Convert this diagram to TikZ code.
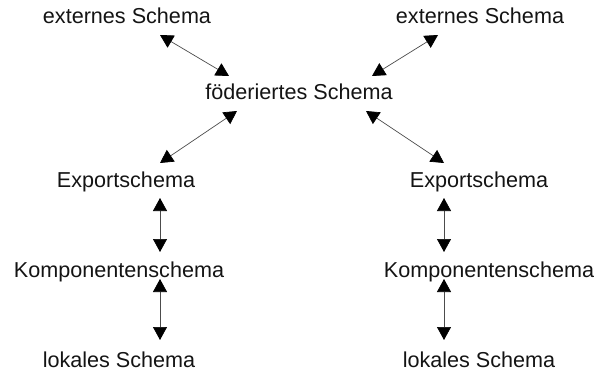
\documentclass[tikz,border=0pt]{standalone}
\usepackage{fontspec}
\setmainfont{Liberation Sans}
\usetikzlibrary{arrows.meta}
\begin{document}
\begin{tikzpicture}[x=1pt,y=-1pt,
  schema/.style={font=\fontsize{21.6}{24}\selectfont, anchor=base, inner sep=0pt, text=black!92},
  tip/.style={Triangle[length=13pt,width=14pt,color=black]},
  link/.style={draw=black!70, line width=0.7pt, {Triangle[length=13pt,width=14pt,color=black]}-{Triangle[length=13pt,width=14pt,color=black]}}]
  \useasboundingbox (0,0) rectangle (594,374);
  % schema levels
  \node[schema] (ext1) at (127,24) {externes Schema};
  \node[schema] (ext2) at (480,24) {externes Schema};
  \node[schema] (fed)  at (299,100) {föderiertes Schema};
  \node[schema] (exp1) at (126,188) {Exportschema};
  \node[schema] (exp2) at (479,188) {Exportschema};
  \node[schema] (kom1) at (119,277) {Komponentenschema};
  \node[schema] (kom2) at (489,277) {Komponentenschema};
  \node[schema] (lok1) at (119,367) {lokales Schema};
  \node[schema] (lok2) at (479,367) {lokales Schema};
  % connector end points
  \coordinate (a1) at (160,35);  \coordinate (a2) at (229,76);
  \coordinate (b1) at (438,35);  \coordinate (b2) at (372,76);
  \coordinate (c1) at (237,111); \coordinate (c2) at (160,163);
  \coordinate (d1) at (366,111); \coordinate (d2) at (444,163);
  \coordinate (e1) at (160,198); \coordinate (e2) at (160,252);
  \coordinate (f1) at (444,198); \coordinate (f2) at (444,252);
  \coordinate (g1) at (160,279); \coordinate (g2) at (160,340);
  \coordinate (h1) at (444,279); \coordinate (h2) at (444,340);
  % mappings between levels
  \draw[link] (a1) -- (a2);
  \draw[link] (b1) -- (b2);
  \draw[link] (c1) -- (c2);
  \draw[link] (d1) -- (d2);
  \draw[link] (e1) -- (e2);
  \draw[link] (f1) -- (f2);
  \draw[link] (g1) -- (g2);
  \draw[link] (h1) -- (h2);
\end{tikzpicture}
\end{document}
